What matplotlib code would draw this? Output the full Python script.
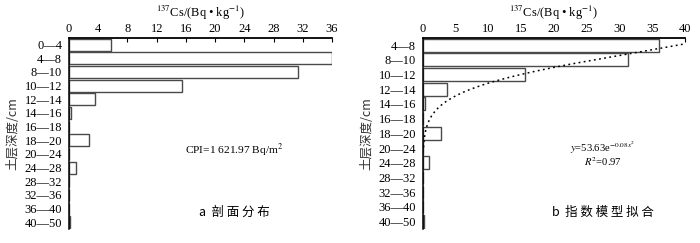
import numpy as np
import matplotlib
matplotlib.use("Agg")
import matplotlib.pyplot as plt

plt.rcParams['font.family'] = ['Liberation Serif', 'DejaVu Serif']
plt.rcParams['mathtext.fontset'] = 'stix'

# 137Cs activity by soil depth layer (Bq/kg)
depth_labels = ["0—4", "4—8", "8—10", "10—12", "12—14", "14—16", "16—18",
                "18—20", "20—24", "24—28", "28—32", "32—36", "36—40", "40—50"]
cs_activity = [5.8, 36.0, 31.3, 15.5, 3.6, 0.3, 0.0,
               2.7, 0.0, 0.9, 0.0, 0.0, 0.0, 0.2]

# exponential fit y = a * exp(-b * x^2), x = layer number (0—4 is layer 1)
fit_a = 53.63
fit_b = 0.08
fit_r2 = 0.97
cpi_text = "CPI=1 621.97 Bq/m$^2$"

left_xticks = [0, 4, 8, 12, 16, 20, 24, 28, 32, 36]
right_xticks = [0, 5, 10, 15, 20, 25, 30, 35, 40]

CJK = ['Noto Sans CJK SC', 'Liberation Serif']
FS = 9.0

fig = plt.figure(figsize=(7.0, 2.43), dpi=100)
axL = fig.add_axes([0.0986, 0.0576, 0.3757, 0.787])
axR = fig.add_axes([0.6043, 0.0576, 0.3743, 0.787])


def style_axis(ax, labels, values, xmax, xticks):
    pos = np.arange(len(labels))
    ax.barh(pos, values, height=0.88, color="white", edgecolor="#4a4a4a",
            linewidth=1.0, zorder=2)
    ax.set_ylim(len(labels) - 0.5, -0.5)
    ax.set_xlim(0, xmax)
    ax.set_yticks(pos)
    ax.set_yticklabels(labels, fontsize=FS)
    ax.tick_params(axis='y', length=0, pad=5)
    ax.xaxis.tick_top()
    ax.set_xticks(xticks)
    ax.set_xticklabels([str(t) for t in xticks], fontsize=FS)
    ax.tick_params(axis='x', direction='in', length=3, width=0.8, pad=2)
    for s in ("right", "bottom"):
        ax.spines[s].set_visible(False)
    ax.spines["top"].set_linewidth(1.3)
    ax.spines["left"].set_linewidth(1.1)
    ax.spines["top"].set_zorder(5)
    ax.spines["left"].set_zorder(5)
    ax.set_xlabel(r"$^{137}$Cs/(Bq • kg$^{-1}$)", fontsize=FS, labelpad=4)
    ax.xaxis.set_label_position('top')
    ax.set_ylabel("土层深度/cm", family=CJK, fontsize=9, color="#333333")
    ax.yaxis.set_label_coords(-0.19, 0.5)


# a: profile distribution
style_axis(axL, depth_labels, cs_activity, 36, left_xticks)
axL.text(0.627, 0.41, cpi_text, transform=axL.transAxes, fontsize=8.2,
         ha="center", va="center")
axL.text(0.627, 0.085, "a  剖 面 分 布", transform=axL.transAxes, fontsize=9,
         ha="center", va="center", family=CJK)

# b: exponential model fit (layers from 4—8 downwards)
style_axis(axR, depth_labels[1:], cs_activity[1:], 40, right_xticks)
pos_curve = np.linspace(-0.12, 7.2, 300)
layer_no = pos_curve + 2
curve = fit_a * np.exp(-fit_b * layer_no ** 2)
axR.plot(curve, pos_curve, linestyle=(0, (1.2, 2.2)), color="black",
         linewidth=1.1, zorder=4, clip_on=True)
axR.text(0.687, 0.425, rf"$y$=53.63e$^{{-{fit_b:.2f}x^2}}$", transform=axR.transAxes,
         fontsize=7.6, ha="center", va="center")
axR.text(0.687, 0.355, rf"$R^2$={fit_r2:.2f}", transform=axR.transAxes,
         fontsize=7.6, ha="center", va="center")
axR.text(0.687, 0.085, "b  指 数 模 型 拟 合", transform=axR.transAxes, fontsize=9,
         ha="center", va="center", family=CJK)

fig.savefig("out.png", dpi=100)
